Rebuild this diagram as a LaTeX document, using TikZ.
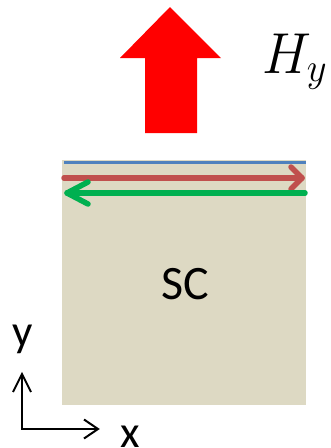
\documentclass[tikz,border=0pt]{standalone}
\usepackage{fix-cm}
\usepackage{fontspec}
\newfontfamily\carlito{Carlito}
\definecolor{scfill}{HTML}{DDD9C3}
\definecolor{edgeblue}{HTML}{4F81BD}
\definecolor{upred}{HTML}{C0504D}
\definecolor{downgreen}{HTML}{00B050}
\tikzset{
  lbl/.style={inner sep=0pt, anchor=base, font=\carlito\fontsize{45}{48}\selectfont},
  edgearrow/.style={line width=5.5pt, line cap=round, line join=round},
  axis/.style={line width=2pt, black, line join=miter}
}
\begin{document}
\begin{tikzpicture}[x=1pt, y=-1pt]
\useasboundingbox (0,0) rectangle (331,448);
% superconductor block
\fill[scfill] (62,160) rectangle (306,405);
\node[inner sep=0pt, anchor=base, font=\carlito\fontsize{48}{52}\selectfont] (sc) at (185,299) {SC};
% top edge line
\coordinate (bl) at (64,162.5);
\coordinate (br) at (306,162.5);
\draw[edgeblue, line width=2.5pt] (bl) -- (br);
% red edge current (to the right)
\coordinate (rs) at (64,178);
\coordinate (rt) at (302,178);
\draw[upred, edgearrow] (rs) -- (rt);
\draw[upred, edgearrow] (291,167) -- (rt) -- (291,189);
% green edge current (to the left)
\coordinate (gs) at (305,193);
\coordinate (gt) at (67,193);
\draw[downgreen, edgearrow] (gs) -- (gt);
\draw[downgreen, edgearrow] (88,182) -- (gt) -- (88,204);
% big field arrow
\fill[red] (145,133) -- (145,58) -- (120,58) -- (170,7) -- (221,58) -- (197,58) -- (197,133) -- cycle;
\node[inner sep=0pt, anchor=base west] (hy) at (262,73) {\fontsize{55}{60}\selectfont\scalebox{1}[1.05]{$H_y$}};
% axes
\coordinate (o) at (22,429);
\coordinate (ytip) at (22,374);
\coordinate (xtip) at (98,429);
\draw[axis] (ytip) -- (o) -- (xtip);
\draw[axis] (13,392) -- (ytip) -- (31,392);
\draw[axis] (84,419.5) -- (xtip) -- (84,438.5);
\node[lbl] (ylab) at (22.5,346) {y};
\node[lbl] (xlab) at (130,447.5) {x};
\end{tikzpicture}
\end{document}
